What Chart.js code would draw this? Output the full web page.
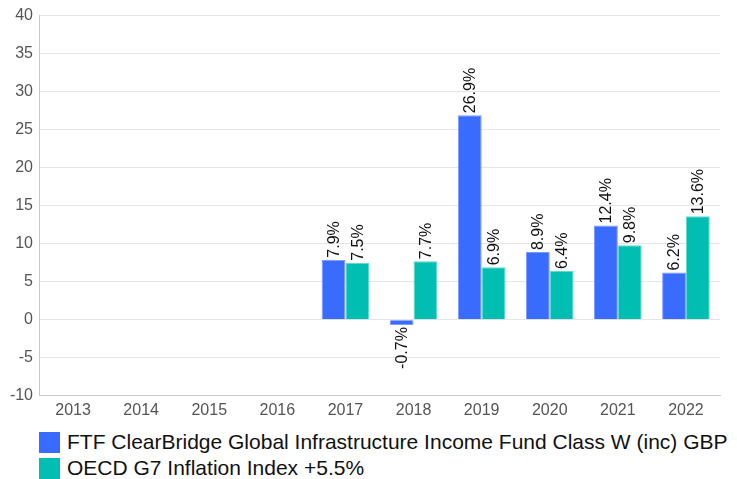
<!DOCTYPE html>
<html>
<head>
<meta charset="utf-8">
<script src="https://cdn.jsdelivr.net/npm/chart.js@4"></script>
<style>
  body { margin: 0; background: #fff; font-family: "Liberation Sans", Arial, sans-serif; }
  #wrap { position: relative; width: 737px; height: 425px; }
  #legend { margin: 4px 0 0 39px; font-size: 21px; color: #111; }
  .item { display: flex; align-items: center; height: 26px; }
  .box { width: 21px; height: 21px; margin-right: 7px; flex: none; }
</style>
</head>
<body>
<div id="wrap"><canvas id="chart"></canvas></div>
<div id="legend"></div>
<script>
const years = ['2013', '2014', '2015', '2016', '2017', '2018', '2019', '2020', '2021', '2022'];
const fundValues = [null, null, null, null, 7.9, -0.7, 26.9, 8.9, 12.4, 6.2];
const indexValues = [null, null, null, null, 7.5, 7.7, 6.9, 6.4, 9.8, 13.6];
const seriesNames = ['FTF ClearBridge Global Infrastructure Income Fund Class W (inc) GBP', 'OECD G7 Inflation Index +5.5%'];
const seriesColors = ['#3a6bff', '#00bfb2'];
const seriesBorders = ['#7b9bff', '#5fd8cf'];

const fontFamily = '"Liberation Sans", Arial, sans-serif';

// rotated value labels above / below each bar
const barLabels = {
    id: 'barLabels',
    afterDatasetsDraw(chart) {
        const ctx = chart.ctx;
        ctx.save();
        ctx.font = '16px ' + fontFamily;
        ctx.fillStyle = '#111';
        ctx.textBaseline = 'middle';
        chart.data.datasets.forEach((ds, i) => {
            chart.getDatasetMeta(i).data.forEach((bar, j) => {
                const v = ds.data[j];
                if (v === null) return;
                ctx.save();
                ctx.translate(bar.x, v >= 0 ? bar.y - 2 : bar.y + 2);
                ctx.rotate(-Math.PI / 2);
                ctx.textAlign = v >= 0 ? 'left' : 'right';
                ctx.fillText(v.toFixed(1) + '%', 0, 1);
                ctx.restore();
            });
        });
        ctx.restore();
    }
};

const ctx = document.getElementById('chart').getContext('2d');
new Chart(ctx, {
    type: 'bar',
    data: {
        labels: years,
        datasets: [
            {
                label: seriesNames[0],
                data: fundValues,
                backgroundColor: seriesColors[0],
                borderColor: seriesBorders[0],
                borderWidth: 1
            },
            {
                label: seriesNames[1],
                data: indexValues,
                backgroundColor: seriesColors[1],
                borderColor: seriesBorders[1],
                borderWidth: 1
            }
        ]
    },
    options: {
        responsive: true,
        maintainAspectRatio: false,
        animation: false,
        layout: { padding: { top: 8, right: 17, left: 0, bottom: 0 } },
        datasets: { bar: { categoryPercentage: 0.7, barPercentage: 1 } },
        plugins: {
            legend: { display: false },
            tooltip: { enabled: false }
        },
        scales: {
            x: {
                grid: { display: false, drawTicks: false },
                border: { color: '#c8c8c8' },
                ticks: {
                    color: '#555',
                    padding: 5,
                    font: { size: 16, family: fontFamily }
                }
            },
            y: {
                min: -10,
                max: 40,
                afterFit: (scale) => { scale.width = 39; },
                grid: { color: '#e6e6e6', drawTicks: false },
                border: { color: '#c8c8c8' },
                ticks: {
                    stepSize: 5,
                    color: '#555',
                    padding: 6,
                    font: { size: 16, family: fontFamily }
                }
            }
        }
    },
    plugins: [barLabels]
});

const legend = document.getElementById('legend');
seriesNames.forEach((name, i) => {
    const item = document.createElement('div');
    item.className = 'item';
    const box = document.createElement('span');
    box.className = 'box';
    box.style.background = seriesColors[i];
    item.appendChild(box);
    item.appendChild(document.createTextNode(name));
    legend.appendChild(item);
});
</script>
</body>
</html>
